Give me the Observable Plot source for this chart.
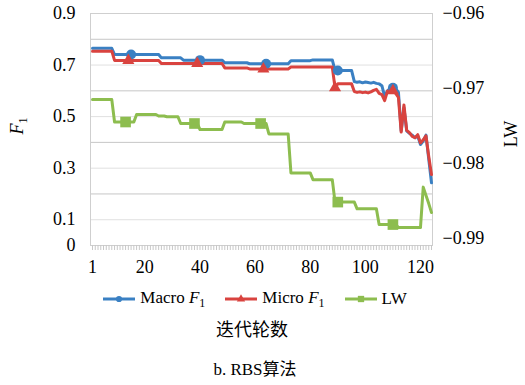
<!DOCTYPE html>
<html><head><meta charset="utf-8">
<script src="https://cdn.jsdelivr.net/npm/d3@7"></script>
<script src="https://cdn.jsdelivr.net/npm/@observablehq/plot@0.6"></script>
<style>
body{margin:0;background:#fff;font-family:"Liberation Serif","Noto Sans CJK SC",serif;color:#000;}
#wrap{position:relative;width:525px;height:385px;overflow:hidden;}
#chart{position:absolute;left:0;top:0;}
.row{position:absolute;left:0;line-height:20px;font-size:17px;white-space:nowrap;}
#legend{top:288px;width:510px;display:flex;justify-content:center;gap:20px;}
.item{display:flex;align-items:center;}
.item svg{margin-right:5px;}
#xlabel{top:320px;width:504px;text-align:center;font-size:18px;}
#caption{top:360px;width:510px;text-align:center;font-size:17px;}
.sub{font-size:12px;position:relative;top:4px;font-style:normal;}
</style></head><body>
<div id="wrap">
  <div id="chart"></div>
  <div id="legend" class="row"></div>
  <div id="xlabel" class="row">迭代轮数</div>
  <div id="caption" class="row">b. RBS算法</div>
</div>
<script>
// ---- data ----
const iterations = d3.range(1, 125); // 1..124
const macroF1 = [
0.765,0.765,0.765,0.765,0.765,0.765,0.765,0.765,
0.741,0.741,0.741,0.741,0.741,0.741,0.741,0.741,0.741,0.741,0.741,0.741,0.741,0.741,0.741,0.741,0.741,
0.728,0.728,0.728,0.728,0.728,0.728,0.728,0.728,
0.719,0.719,0.719,0.719,0.719,0.719,0.719,0.719,0.719,0.719,0.719,0.719,0.719,0.719,0.719,
0.709,0.709,0.709,0.709,0.709,0.709,0.709,0.709,0.709,
0.705,0.705,0.705,0.705,0.705,0.705,0.705,0.705,0.705,0.705,0.705,0.705,0.705,0.705,0.705,
0.717,0.717,0.717,0.717,0.717,0.717,0.717,0.717,0.720,0.720,0.720,0.720,0.720,0.720,0.720,0.720,
0.679,0.679,0.679,0.679,0.679,0.679,0.679,
0.636,0.633,0.635,0.631,0.634,0.632,0.630,0.633,0.629,0.627,
0.620,0.578,0.600,0.610,0.612,0.608,0.595,0.445,0.535,0.445,0.435,0.428,0.418,0.426,0.392,0.405,0.428,0.335,0.243
];
const microF1 = [
0.754,0.754,0.754,0.754,0.754,0.754,0.754,0.754,
0.718,0.718,0.718,0.718,0.718,0.718,0.718,0.718,0.718,0.718,0.718,0.718,0.718,0.718,0.718,0.718,0.718,
0.706,0.706,0.706,0.706,0.706,0.706,0.706,0.706,0.706,0.706,0.706,0.706,0.706,0.706,0.706,0.706,0.706,0.706,0.706,0.706,0.706,0.706,0.706,
0.689,0.689,0.689,0.689,0.689,0.689,0.689,0.689,0.689,
0.685,0.685,0.685,0.685,0.685,0.685,0.685,0.685,0.685,0.685,0.685,0.685,0.685,0.685,0.685,
0.692,0.692,0.692,0.692,0.692,0.692,0.692,0.692,0.692,0.692,0.692,0.692,0.692,0.692,0.692,0.692,
0.612,
0.627,0.627,0.627,0.627,0.627,0.627,
0.597,0.594,0.596,0.593,0.595,0.592,0.596,
0.602,0.606,0.590,0.585,0.562,0.598,0.604,0.600,0.590,0.575,0.440,0.545,0.447,0.438,0.423,0.418,0.430,0.398,0.410,0.425,0.345,0.275
];
const lw = [
-0.9715,-0.9715,-0.9715,-0.9715,-0.9715,-0.9715,-0.9715,-0.9715,
-0.9745,-0.9745,-0.9745,-0.9745,-0.9745,-0.9745,-0.9745,-0.9745,
-0.9735,-0.9735,-0.9735,-0.9735,-0.9735,-0.9735,-0.9735,-0.9735,
-0.9737,-0.9737,-0.9737,
-0.9738,-0.9738,-0.9738,-0.9738,-0.9738,
-0.9747,-0.9747,-0.9747,-0.9747,-0.9747,-0.9747,-0.9747,
-0.9755,-0.9755,-0.9755,-0.9755,-0.9755,-0.9755,-0.9755,-0.9755,-0.9755,
-0.9745,-0.9745,-0.9745,-0.9745,-0.9745,-0.9745,-0.9745,
-0.9747,-0.9747,-0.9747,-0.9747,-0.9747,-0.9747,-0.9747,-0.9747,-0.9747,
-0.9761,-0.9761,-0.9761,-0.9761,-0.9761,-0.9761,-0.9761,-0.9761,
-0.9813,-0.9813,-0.9813,-0.9813,-0.9813,-0.9813,-0.9813,-0.9813,
-0.9822,-0.9822,-0.9822,-0.9822,-0.9822,-0.9822,-0.9822,-0.9822,
-0.9852,-0.9852,-0.9852,-0.9852,-0.9852,-0.9852,-0.9852,-0.9852,
-0.9861,-0.9861,-0.9861,-0.9861,-0.9861,-0.9861,-0.9861,-0.9861,
-0.9882,-0.9882,-0.9882,-0.9882,-0.9882,-0.9882,-0.9882,
-0.9886,-0.9886,-0.9886,-0.9886,-0.9886,-0.9886,-0.9886,-0.9886,-0.9886,
-0.9832,-0.9843,-0.9854,-0.9866
];
const macroMarkers = [15, 40, 64, 90, 110];
const microMarkers = [14, 39, 63, 89, 110];
const lwMarkers = [13, 38, 62, 90, 110];
const xTickLabels = [1, 20, 40, 60, 80, 100, 120];
const leftTicks = [0, 0.1, 0.3, 0.5, 0.7, 0.9];
const gridMajor = [0, 0.2, 0.4, 0.6, 0.8];
const gridMinor = [0.1, 0.3, 0.5, 0.7, 0.9];
const rightTicks = [-0.96, -0.97, -0.98, -0.99];
const LW_MIN = -0.991, LW_MAX = -0.96, F_MAX = 0.9;

const colors = {macro: "#3a80c3", micro: "#d9433f", lw: "#8dbd4f"};

// map LW (right axis) onto the left F1 scale
const toLeft = v => (v - LW_MIN) / (LW_MAX - LW_MIN) * F_MAX;
const fromLeft = d => d / F_MAX * (LW_MAX - LW_MIN) + LW_MIN;

const macroData = iterations.map((it, i) => ({it, v: macroF1[i]}));
const microData = iterations.map((it, i) => ({it, v: microF1[i]}));
const lwData = iterations.map((it, i) => ({it, v: toLeft(lw[i])}));

const font = "Liberation Serif, Noto Sans CJK SC, serif";

const chart = Plot.plot({
  width: 525, height: 282,
  marginTop: 13, marginBottom: 37, marginLeft: 90, marginRight: 93,
  x: {domain: [1, 124], insetLeft: 2, insetRight: 1, label: null},
  y: {domain: [0, 0.9], label: null},
  style: {fontFamily: font, fontSize: "18px", color: "#000", background: "#fff"},
  marks: [
    Plot.ruleY(gridMinor, {stroke: "#e0e0e0", strokeWidth: 1}),
    Plot.ruleY(gridMajor, {stroke: "#c6c6c6", strokeWidth: 1}),
    Plot.frame({stroke: "#cfcfcf", strokeWidth: 1}),
    Plot.axisX({ticks: iterations, tickSize: 5, text: null, stroke: "#c8c8c8", label: null}),
    Plot.axisX({ticks: xTickLabels, tickSize: 0, tickPadding: 15, tickFormat: d => String(d), label: null, fontSize: 18}),
    Plot.axisY({ticks: leftTicks, tickSize: 0, tickPadding: 15, tickFormat: d => d === 0 ? "0" : d.toFixed(1), label: null, fontSize: 18}),
    Plot.axisY({anchor: "right", ticks: rightTicks.map(toLeft), tickSize: 0, tickPadding: 10,
      tickFormat: d => fromLeft(d).toFixed(2).replace("-", "\u2212"), label: null, fontSize: 18}),
    Plot.line(lwData, {x: "it", y: "v", stroke: colors.lw, strokeWidth: 3}),
    Plot.line(macroData, {x: "it", y: "v", stroke: colors.macro, strokeWidth: 3}),
    Plot.line(microData, {x: "it", y: "v", stroke: colors.micro, strokeWidth: 3}),
    Plot.dot(lwData.filter(d => lwMarkers.includes(d.it)), {x: "it", y: "v", symbol: "square", r: 6, fill: colors.lw}),
    Plot.dot(macroData.filter(d => macroMarkers.includes(d.it)), {x: "it", y: "v", symbol: "circle", r: 5, fill: colors.macro}),
    Plot.dot(microData.filter(d => microMarkers.includes(d.it)), {x: "it", y: "v", symbol: "triangle", r: 4.5, fill: colors.micro})
  ]
});
document.getElementById("chart").appendChild(chart);

// force serif font on every text of the chart
const svg = d3.select(chart);
svg.style("font-family", font);
svg.selectAll("g, text").style("font-family", font, "important").style("font-variant", "normal");

// axis titles
const fl = svg.append("text")
  .attr("transform", "translate(23,126) rotate(-90)")
  .attr("text-anchor", "middle")
  .style("font-family", font).attr("font-size", 18).attr("fill", "#000");
fl.append("tspan").attr("font-style", "italic").text("F");
fl.append("tspan").attr("font-size", 12).attr("dy", "0.3em").text("1");
svg.append("text")
  .attr("transform", "translate(517,134) rotate(-90)")
  .attr("text-anchor", "middle")
  .style("font-family", font).attr("font-size", 18).attr("fill", "#000")
  .text("LW");

// legend
const legendItems = [
  {key: "macro", name: "Macro", sub: true, symbol: "circle"},
  {key: "micro", name: "Micro", sub: true, symbol: "triangle"},
  {key: "lw", name: "LW", sub: false, symbol: "square"}
];
const legend = d3.select("#legend");
legendItems.forEach(it => {
  const item = legend.append("div").attr("class", "item");
  const s = item.append("svg").attr("width", 32).attr("height", 12);
  s.append("line").attr("x1", 0).attr("x2", 32).attr("y1", 6).attr("y2", 6)
    .attr("stroke", colors[it.key]).attr("stroke-width", 3);
  s.append("path").attr("transform", "translate(16,6)")
    .attr("d", d3.symbol(it.symbol === "circle" ? d3.symbolCircle : it.symbol === "triangle" ? d3.symbolTriangle : d3.symbolSquare, it.symbol === "square" ? 40 : 30)())
    .attr("fill", colors[it.key]);
  const t = item.append("span");
  if (it.sub) {
    t.append("span").text(it.name + " ");
    t.append("i").text("F");
    t.append("span").attr("class", "sub").text("1");
  } else {
    t.text(it.name);
  }
});
</script>
</body></html>
